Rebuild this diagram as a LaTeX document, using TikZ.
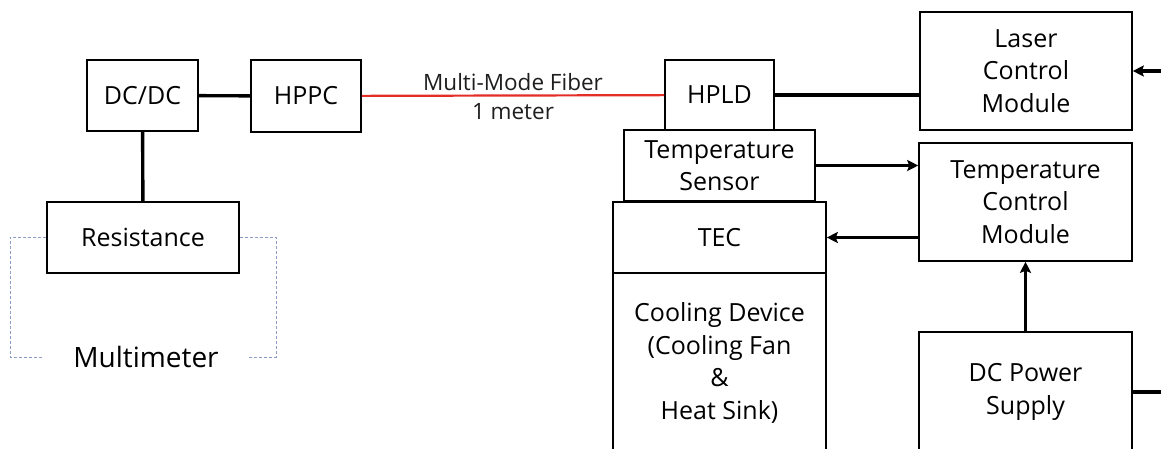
\documentclass[tikz,border=0pt]{standalone}
\usepackage{fontspec}
\setmainfont{Open Sans}
\usetikzlibrary{arrows.meta}

\begin{document}
\begin{tikzpicture}[x=1pt,y=1pt,yscale=-1,xscale=1,
  block/.style={draw, line width=1.6, align=center, inner sep=0, font=\fontsize{25}{32.5}\selectfont},
  wire/.style={line width=3.4},
  sig/.style={line width=3.4, -{Stealth[length=11pt,width=11pt,inset=2pt]}},
  fiber/.style={line width=2.2, draw={rgb,255:red,228;green,45;blue,38}},
  fibtext/.style={font=\fontsize{22.5}{26}\selectfont, text={rgb,255:red,30;green,30;blue,30}},
  meter/.style={line width=0.9, dash pattern=on 3pt off 2pt, draw={rgb,255:red,140;green,155;blue,195}}]
%set diagram to 1161 x 448
\useasboundingbox (0,0) rectangle (1161,448);
\clip (0,0) rectangle (1161,448);

% Blocks
\node [block, minimum width=111pt, minimum height=71pt] (dcdc) at (142.5,95.5) {DC/DC};
\node [block, minimum width=110pt, minimum height=72pt] (hppc) at (306,96) {HPPC};
\node [block, minimum width=192pt, minimum height=71pt] (resist) at (143,237.5) {Resistance};
\node [block, minimum width=109pt, minimum height=70pt] (hpld) at (719.5,95) {HPLD};
\node [block, minimum width=191pt, minimum height=71pt] (sensor) at (719.5,165.5) {Temperature\\Sensor};
\node [block, minimum width=213pt, minimum height=71pt] (tec) at (719.5,237.5) {TEC};
\node [block, minimum width=213pt, minimum height=180pt] (cool) at (719.5,363) {Cooling Device\\(Cooling Fan\\\&\\Heat Sink)};
\node [block, minimum width=212pt, minimum height=118pt] (lcm) at (1026,71) {Laser\\Control\\Module};
\node [block, minimum width=213pt, minimum height=118pt] (tcm) at (1025.5,202) {Temperature\\Control\\Module};
\node [block, minimum width=213pt, minimum height=120pt] (dcps) at (1025.5,392) {DC Power\\Supply};

% Text Node
\node [inner ysep=0, inner xsep=30pt, font=\fontsize{28}{34}\selectfont] (mtr) at (146,357) {Multimeter};
\coordinate (mtrL) at (10,357);
\coordinate (mtrR) at (276,357);
\coordinate (lcmIn) at (1161,71);
\coordinate (dcpsOut) at (1161,392);

%Straight Lines
\draw [wire] (dcdc) -- (hppc);
\draw [wire] (dcdc) -- (resist);
\draw [wire] (hpld.east) -- (hpld.east -| lcm.west);
\draw [wire] (dcps.east) -- (dcpsOut);
\draw [fiber] (hppc) -- (hpld)
  node [midway, above=0pt, fibtext] (fibtop) {Multi-Mode Fiber}
  node [midway, below=3pt, fibtext] (fibbot) {1 meter};

%Arrows
\draw [sig] (lcmIn) -- (lcm.east);
\draw [sig] (sensor.east) -- (sensor.east -| tcm.west);
\draw [sig] (tcm.west |- tec.east) -- (tec.east);
\draw [sig] (dcps) -- (tcm);

%Dashed Lines
\draw [meter] (resist.west) -| (mtrL) -- (mtr.west);
\draw [meter] (resist.east) -| (mtrR) -- (mtr.east);

\end{tikzpicture}
\end{document}
